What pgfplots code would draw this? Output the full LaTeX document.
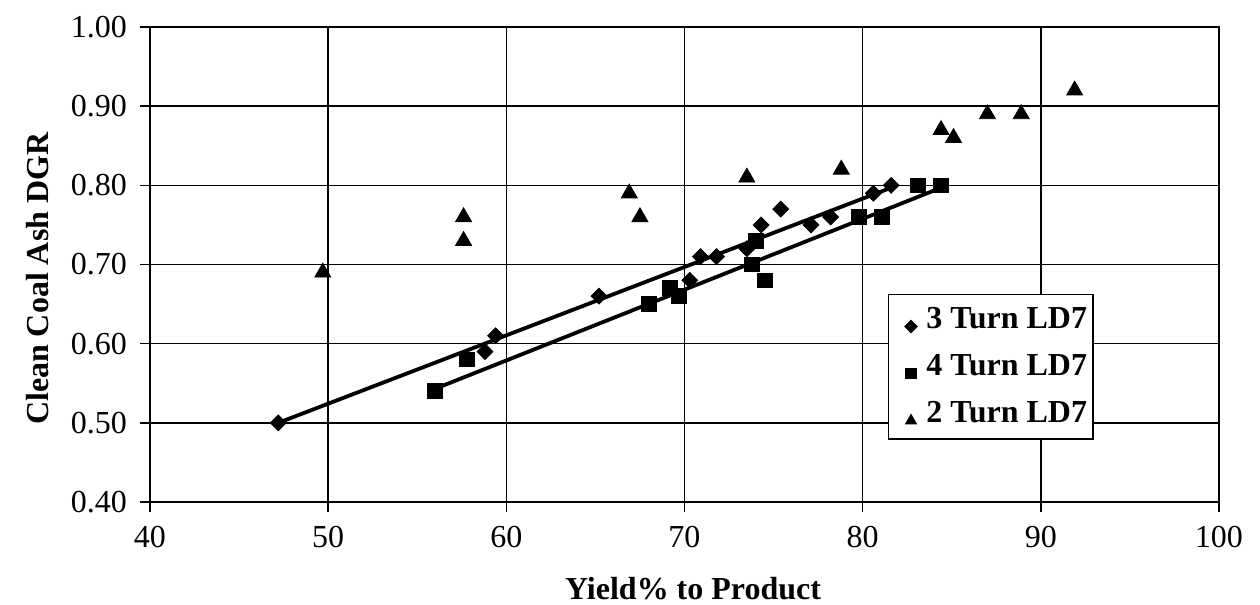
\documentclass[border=0pt]{standalone}
\usepackage{pgfplots}
\pgfplotsset{compat=1.18}
\usepackage{fontspec}
\setmainfont{Liberation Serif}
\pgfplotsset{
  smalllegA/.style={legend image code/.code={\path (0,0) (0.545cm,0);\draw[##1,mark size=2.1pt] plot coordinates {(0.355cm,-0.12cm)};}},
  smalllegB/.style={legend image code/.code={\path (0,0) (0.545cm,0);\draw[##1,mark size=2.5pt] plot coordinates {(0.355cm,-0.12cm)};}},
  smalllegC/.style={legend image code/.code={\path (0,0) (0.545cm,0);\draw[##1,mark size=3pt] plot coordinates {(0.355cm,-0.12cm)};}},
}
\begin{document}
\begin{tikzpicture}
\useasboundingbox (-75pt,-51.5pt) rectangle (555pt,251pt);
\begin{axis}[
  at={(0,0)}, anchor=south west,
  scale only axis, width=534.5pt, height=237.5pt,
  xmin=40, xmax=100, ymin=0.4, ymax=1.0,
  xtick={40,50,...,100}, ytick={0.4,0.5,...,1.0},
  grid=major, major grid style={black, line width=0.7pt},
  axis line style={black, line width=1pt},
  tick align=outside, tick pos=left, major tick length=5pt,
  tick style={black, line width=0.8pt},
  /pgf/number format/assume math mode=true,
  yticklabel style={/pgf/number format/fixed, /pgf/number format/fixed zerofill, /pgf/number format/precision=2, xshift=-3pt},
  xticklabel style={yshift=-3.5pt},
  ticklabel style={font=\fontsize{16}{19}\selectfont},
  xlabel={Yield\% to Product},
  ylabel={Clean Coal Ash DGR},
  label style={font=\fontsize{16}{19}\selectfont\bfseries},
  xlabel style={at={(axis description cs:0.508,0)}, anchor=north, inner sep=0pt, yshift=-37.5pt},
  ylabel style={at={(axis description cs:-0.1048,0.47)}, anchor=center, inner sep=0pt},
  legend style={at={(0.69,0.438)}, anchor=north west, draw=black, line width=0.6pt,
    font=\fontsize{16}{19}\selectfont\bfseries, inner xsep=1pt, inner ysep=4.5pt,
    row sep=7.5pt, legend cell align=left},
]
% 3 Turn LD7
\addplot[only marks, mark=square*, mark size=2.8pt, mark options={rotate=45}, black, smalllegA]
  coordinates {
  (47.2,0.50) (58.8,0.59) (59.4,0.61) (65.2,0.66) (70.3,0.68) (70.9,0.71)
  (71.8,0.71) (73.5,0.72) (74.3,0.75) (75.4,0.77) (77.1,0.75) (78.2,0.76)
  (80.6,0.79) (81.6,0.80)
  };
\addlegendentry{3 Turn LD7}
% 4 Turn LD7
\addplot[only marks, mark=square*, mark size=3.7pt, black, smalllegB]
  coordinates {
  (56.0,0.54) (57.8,0.58) (68.0,0.65) (69.2,0.67) (69.7,0.66) (73.8,0.70)
  (74.0,0.73) (74.5,0.68) (79.8,0.76) (81.1,0.76) (83.1,0.80) (84.4,0.80)
  };
\addlegendentry{4 Turn LD7}
% 2 Turn LD7
\addplot[only marks, mark=triangle*, mark size=4.6pt, black, smalllegC]
  coordinates {
  (49.7,0.69) (57.6,0.76) (57.6,0.73) (66.9,0.79) (67.5,0.76) (73.5,0.81)
  (78.8,0.82) (84.4,0.87) (85.1,0.86) (87.0,0.89) (88.9,0.89) (91.9,0.92)
  };
\addlegendentry{2 Turn LD7}
% trend lines
\addplot[forget plot, black, line width=1.9pt] coordinates {(47.2,0.500) (81.6,0.797)};
\addplot[forget plot, black, line width=1.9pt] coordinates {(56.0,0.543) (84.4,0.797)};
\end{axis}
\end{tikzpicture}
\end{document}
